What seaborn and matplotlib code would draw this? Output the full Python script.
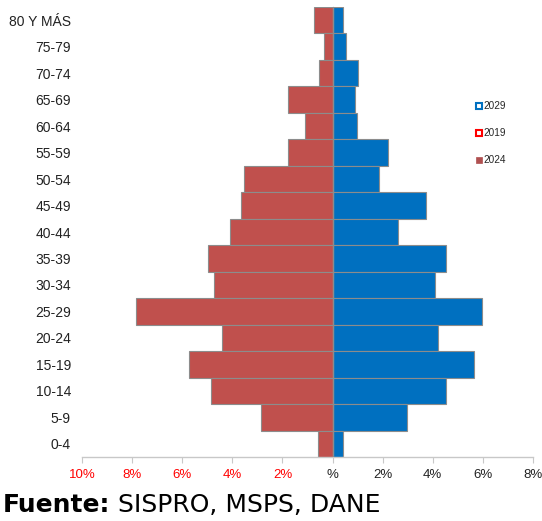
import matplotlib
matplotlib.use("Agg")
import matplotlib.pyplot as plt
from matplotlib.lines import Line2D
import seaborn as sns
import pandas as pd

age_groups = ["80 Y MÁS", "75-79", "70-74", "65-69", "60-64", "55-59", "50-54",
              "45-49", "40-44", "35-39", "30-34", "25-29", "20-24", "15-19",
              "10-14", "5-9", "0-4"]
men = [0.76, 0.36, 0.56, 1.76, 1.08, 1.76, 3.52, 3.64, 4.08, 4.96, 4.72,
       7.86, 4.40, 5.74, 4.84, 2.84, 0.57]
women = [0.43, 0.53, 1.00, 0.88, 0.99, 2.20, 1.87, 3.73, 2.60, 4.51, 4.08,
         5.95, 4.19, 5.63, 4.51, 2.99, 0.43]
x_ticks = [-10, -8, -6, -4, -2, 0, 2, 4, 6, 8]
x_tick_labels = ["10%", "8%", "6%", "4%", "2%", "%", "2%", "4%", "6%", "8%"]
legend_labels = ["2029", "2019", "2024"]

RED = "#C0504D"
BLUE = "#0070C0"
EDGE = "#8C8C8C"

sns.set_style("white")
plt.rcParams["font.family"] = ["Liberation Sans", "DejaVu Sans"]

df_m = pd.DataFrame({"age": age_groups, "value": [-v for v in men]})
df_w = pd.DataFrame({"age": age_groups, "value": women})

fig = plt.figure(figsize=(5.42, 5.21), dpi=100)
ax = fig.add_axes([82 / 542, 1 - 457 / 521, (533 - 82) / 542, (457 - 7) / 521])

sns.barplot(data=df_m, x="value", y="age", orient="h", color=RED, width=1.0,
            edgecolor=EDGE, linewidth=0.8, saturation=1, ax=ax, order=age_groups)
sns.barplot(data=df_w, x="value", y="age", orient="h", color=BLUE, width=1.0,
            edgecolor=EDGE, linewidth=0.8, saturation=1, ax=ax, order=age_groups)

ax.set_xlim(-10, 8)
ax.set_ylim(len(age_groups) - 0.5, -0.5)
ax.set_xlabel("")
ax.set_ylabel("")

for s in ["top", "right", "left"]:
    ax.spines[s].set_visible(False)
ax.spines["bottom"].set_color("#C8C8C8")
ax.spines["bottom"].set_linewidth(1.0)

ax.set_xticks(x_ticks)
ax.set_xticklabels(x_tick_labels, fontsize=9.5)
ax.tick_params(axis="x", direction="out", length=4, width=0.8, color="#C8C8C8",
               pad=5, bottom=True)
for lbl, v in zip(ax.get_xticklabels(), x_ticks):
    lbl.set_color("#FF0000" if v < 0 else "#222222")

ax.tick_params(axis="y", length=0, pad=8, labelsize=10, labelcolor="#222222")

# zero line with small inward ticks
ax.axvline(0, color="#8C8C8C", lw=1.0, zorder=3)
sec = ax.secondary_yaxis(10 / 18)
sec.set_yticks(range(len(age_groups)))
sec.set_yticklabels([])
sec.tick_params(axis="y", direction="in", length=2.5, width=0.8, color="#555555")
sec.spines["left"].set_visible(False)

handles = [
    Line2D([], [], ls="", marker="s", markersize=4.2, markerfacecolor="white",
           markeredgecolor=BLUE, markeredgewidth=1.5),
    Line2D([], [], ls="", marker="s", markersize=4.2, markerfacecolor="white",
           markeredgecolor="#FF0000", markeredgewidth=1.5),
    Line2D([], [], ls="", marker="s", markersize=4.6, markerfacecolor="#B05050",
           markeredgecolor="#B05050", markeredgewidth=0.5),
]
fig.legend(handles, legend_labels, loc="upper left",
           bbox_to_anchor=(470 / 542, 1 - 96 / 521), frameon=False,
           fontsize=7.2, handlelength=0.7, handletextpad=0.15,
           labelspacing=1.7, borderpad=0)

t1 = fig.text(3 / 542, 1 - 512 / 521, "Fuente:", fontsize=18, fontweight="bold",
              family="DejaVu Sans", color="black", va="baseline")
fig.canvas.draw()
bb = t1.get_window_extent()
fig.text(bb.x1 / fig.bbox.width + 8 / 542, 1 - 512 / 521, "SISPRO, MSPS, DANE",
         fontsize=18, family="DejaVu Sans", color="black", va="baseline")

fig.savefig("out.png", dpi=100)
